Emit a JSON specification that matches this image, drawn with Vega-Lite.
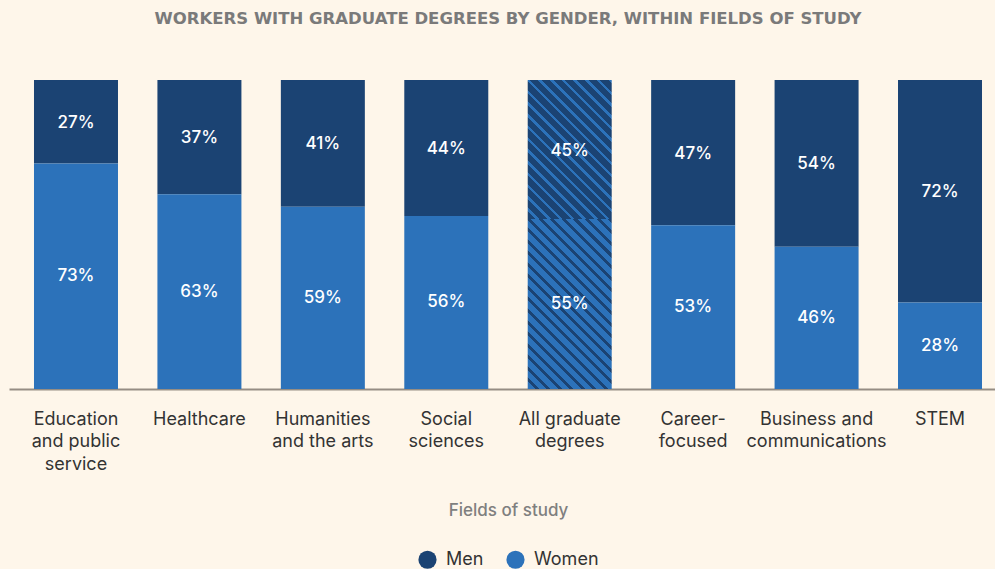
{
  "$schema": "https://vega.github.io/schema/vega-lite/v6.json",
  "autosize": {"type": "none"},
  "padding": {"left": 9, "top": 80, "right": 0, "bottom": 180},
  "width": 998,
  "height": 309,
  "background": "#fef6ea",
  "title": {
    "text": "WORKERS WITH GRADUATE DEGREES BY GENDER, WITHIN FIELDS OF STUDY",
    "font": "DejaVu Sans",
    "fontSize": 16.5,
    "fontWeight": "bold",
    "color": "#7a7a7a",
    "anchor": "middle",
    "offset": 53
  },
  "data": {
    "values": [
      {"category": "Education and public service", "gender": "Men", "share": 0.27},
      {"category": "Education and public service", "gender": "Women", "share": 0.73},
      {"category": "Healthcare", "gender": "Men", "share": 0.37},
      {"category": "Healthcare", "gender": "Women", "share": 0.63},
      {"category": "Humanities and the arts", "gender": "Men", "share": 0.41},
      {"category": "Humanities and the arts", "gender": "Women", "share": 0.59},
      {"category": "Social sciences", "gender": "Men", "share": 0.44},
      {"category": "Social sciences", "gender": "Women", "share": 0.56},
      {"category": "All graduate degrees", "gender": "Men", "share": 0.45},
      {"category": "All graduate degrees", "gender": "Women", "share": 0.55},
      {"category": "Career-focused", "gender": "Men", "share": 0.47},
      {"category": "Career-focused", "gender": "Women", "share": 0.53},
      {"category": "Business and communications", "gender": "Men", "share": 0.54},
      {"category": "Business and communications", "gender": "Women", "share": 0.46},
      {"category": "STEM", "gender": "Men", "share": 0.72},
      {"category": "STEM", "gender": "Women", "share": 0.28}
    ]
  },
  "encoding": {
    "x": {
      "field": "category",
      "type": "nominal",
      "sort": ["Education and public service", "Healthcare", "Humanities and the arts", "Social sciences", "All graduate degrees", "Career-focused", "Business and communications", "STEM"],
      "scale": {"paddingInner": 0.3195, "paddingOuter": 0.2025},
      "axis": {
        "title": "Fields of study",
        "labelAngle": 0,
        "ticks": false,
        "domainColor": "#958d84",
        "domainWidth": 2,
        "labelFont": "Inter",
        "labelFontSize": 18,
        "labelColor": "#333333",
        "labelLineHeight": 22.5,
        "labelPadding": 21,
        "labelLimit": 0,
        "labelBaseline": "top",
        "labelExpr": "datum.value=='Education and public service' ? ['Education','and public','service'] : datum.value=='Humanities and the arts' ? ['Humanities','and the arts'] : datum.value=='Social sciences' ? ['Social','sciences'] : datum.value=='All graduate degrees' ? ['All graduate','degrees'] : datum.value=='Career-focused' ? ['Career-','focused'] : datum.value=='Business and communications' ? ['Business and','communications'] : datum.label",
        "titleFont": "Inter",
        "titleFontSize": 17,
        "titleFontWeight": 500,
        "titleColor": "#7f7f7f",
        "titlePadding": 29
      }
    }
  },
  "layer": [
    {
      "mark": {"type": "bar"},
      "encoding": {
        "y": {"field": "share", "type": "quantitative", "stack": "zero", "scale": {"domain": [0, 1]}, "axis": null},
        "order": {"field": "gender", "sort": "descending"},
        "color": {
          "condition": [
            {
              "test": "datum.category==='All graduate degrees' && datum.gender==='Men'",
              "value": {
                "gradient": "linear", "x1": 0, "y1": 1, "x2": 0.7102, "y2": -0.1752,
                "stops": [
                  {"offset": 0, "color": "#1b4373"}, {"offset": 0.03684, "color": "#1b4373"}, {"offset": 0.03684, "color": "#2c72ba"}, {"offset": 0.05263, "color": "#2c72ba"},
                  {"offset": 0.05263, "color": "#1b4373"}, {"offset": 0.08947, "color": "#1b4373"}, {"offset": 0.08947, "color": "#2c72ba"}, {"offset": 0.10526, "color": "#2c72ba"},
                  {"offset": 0.10526, "color": "#1b4373"}, {"offset": 0.14211, "color": "#1b4373"}, {"offset": 0.14211, "color": "#2c72ba"}, {"offset": 0.15789, "color": "#2c72ba"},
                  {"offset": 0.15789, "color": "#1b4373"}, {"offset": 0.19474, "color": "#1b4373"}, {"offset": 0.19474, "color": "#2c72ba"}, {"offset": 0.21053, "color": "#2c72ba"},
                  {"offset": 0.21053, "color": "#1b4373"}, {"offset": 0.24737, "color": "#1b4373"}, {"offset": 0.24737, "color": "#2c72ba"}, {"offset": 0.26316, "color": "#2c72ba"},
                  {"offset": 0.26316, "color": "#1b4373"}, {"offset": 0.3, "color": "#1b4373"}, {"offset": 0.3, "color": "#2c72ba"}, {"offset": 0.31579, "color": "#2c72ba"},
                  {"offset": 0.31579, "color": "#1b4373"}, {"offset": 0.35263, "color": "#1b4373"}, {"offset": 0.35263, "color": "#2c72ba"}, {"offset": 0.36842, "color": "#2c72ba"},
                  {"offset": 0.36842, "color": "#1b4373"}, {"offset": 0.40526, "color": "#1b4373"}, {"offset": 0.40526, "color": "#2c72ba"}, {"offset": 0.42105, "color": "#2c72ba"},
                  {"offset": 0.42105, "color": "#1b4373"}, {"offset": 0.45789, "color": "#1b4373"}, {"offset": 0.45789, "color": "#2c72ba"}, {"offset": 0.47368, "color": "#2c72ba"},
                  {"offset": 0.47368, "color": "#1b4373"}, {"offset": 0.51053, "color": "#1b4373"}, {"offset": 0.51053, "color": "#2c72ba"}, {"offset": 0.52632, "color": "#2c72ba"},
                  {"offset": 0.52632, "color": "#1b4373"}, {"offset": 0.56316, "color": "#1b4373"}, {"offset": 0.56316, "color": "#2c72ba"}, {"offset": 0.57895, "color": "#2c72ba"},
                  {"offset": 0.57895, "color": "#1b4373"}, {"offset": 0.61579, "color": "#1b4373"}, {"offset": 0.61579, "color": "#2c72ba"}, {"offset": 0.63158, "color": "#2c72ba"},
                  {"offset": 0.63158, "color": "#1b4373"}, {"offset": 0.66842, "color": "#1b4373"}, {"offset": 0.66842, "color": "#2c72ba"}, {"offset": 0.68421, "color": "#2c72ba"},
                  {"offset": 0.68421, "color": "#1b4373"}, {"offset": 0.72105, "color": "#1b4373"}, {"offset": 0.72105, "color": "#2c72ba"}, {"offset": 0.73684, "color": "#2c72ba"},
                  {"offset": 0.73684, "color": "#1b4373"}, {"offset": 0.77368, "color": "#1b4373"}, {"offset": 0.77368, "color": "#2c72ba"}, {"offset": 0.78947, "color": "#2c72ba"},
                  {"offset": 0.78947, "color": "#1b4373"}, {"offset": 0.82632, "color": "#1b4373"}, {"offset": 0.82632, "color": "#2c72ba"}, {"offset": 0.84211, "color": "#2c72ba"},
                  {"offset": 0.84211, "color": "#1b4373"}, {"offset": 0.87895, "color": "#1b4373"}, {"offset": 0.87895, "color": "#2c72ba"}, {"offset": 0.89474, "color": "#2c72ba"},
                  {"offset": 0.89474, "color": "#1b4373"}, {"offset": 0.93158, "color": "#1b4373"}, {"offset": 0.93158, "color": "#2c72ba"}, {"offset": 0.94737, "color": "#2c72ba"},
                  {"offset": 0.94737, "color": "#1b4373"}, {"offset": 0.98421, "color": "#1b4373"}, {"offset": 0.98421, "color": "#2c72ba"}, {"offset": 1, "color": "#2c72ba"}
                ]
              }
            },
            {
              "test": "datum.category==='All graduate degrees' && datum.gender==='Women'",
              "value": {
                "gradient": "linear", "x1": 0, "y1": 1, "x2": 0.5934, "y2": -0.2009,
                "stops": [
                  {"offset": 0, "color": "#2c72ba"}, {"offset": 0.02955, "color": "#2c72ba"}, {"offset": 0.02955, "color": "#1b4373"}, {"offset": 0.04545, "color": "#1b4373"},
                  {"offset": 0.04545, "color": "#2c72ba"}, {"offset": 0.075, "color": "#2c72ba"}, {"offset": 0.075, "color": "#1b4373"}, {"offset": 0.09091, "color": "#1b4373"},
                  {"offset": 0.09091, "color": "#2c72ba"}, {"offset": 0.12045, "color": "#2c72ba"}, {"offset": 0.12045, "color": "#1b4373"}, {"offset": 0.13636, "color": "#1b4373"},
                  {"offset": 0.13636, "color": "#2c72ba"}, {"offset": 0.16591, "color": "#2c72ba"}, {"offset": 0.16591, "color": "#1b4373"}, {"offset": 0.18182, "color": "#1b4373"},
                  {"offset": 0.18182, "color": "#2c72ba"}, {"offset": 0.21136, "color": "#2c72ba"}, {"offset": 0.21136, "color": "#1b4373"}, {"offset": 0.22727, "color": "#1b4373"},
                  {"offset": 0.22727, "color": "#2c72ba"}, {"offset": 0.25682, "color": "#2c72ba"}, {"offset": 0.25682, "color": "#1b4373"}, {"offset": 0.27273, "color": "#1b4373"},
                  {"offset": 0.27273, "color": "#2c72ba"}, {"offset": 0.30227, "color": "#2c72ba"}, {"offset": 0.30227, "color": "#1b4373"}, {"offset": 0.31818, "color": "#1b4373"},
                  {"offset": 0.31818, "color": "#2c72ba"}, {"offset": 0.34773, "color": "#2c72ba"}, {"offset": 0.34773, "color": "#1b4373"}, {"offset": 0.36364, "color": "#1b4373"},
                  {"offset": 0.36364, "color": "#2c72ba"}, {"offset": 0.39318, "color": "#2c72ba"}, {"offset": 0.39318, "color": "#1b4373"}, {"offset": 0.40909, "color": "#1b4373"},
                  {"offset": 0.40909, "color": "#2c72ba"}, {"offset": 0.43864, "color": "#2c72ba"}, {"offset": 0.43864, "color": "#1b4373"}, {"offset": 0.45455, "color": "#1b4373"},
                  {"offset": 0.45455, "color": "#2c72ba"}, {"offset": 0.48409, "color": "#2c72ba"}, {"offset": 0.48409, "color": "#1b4373"}, {"offset": 0.5, "color": "#1b4373"},
                  {"offset": 0.5, "color": "#2c72ba"}, {"offset": 0.52955, "color": "#2c72ba"}, {"offset": 0.52955, "color": "#1b4373"}, {"offset": 0.54545, "color": "#1b4373"},
                  {"offset": 0.54545, "color": "#2c72ba"}, {"offset": 0.575, "color": "#2c72ba"}, {"offset": 0.575, "color": "#1b4373"}, {"offset": 0.59091, "color": "#1b4373"},
                  {"offset": 0.59091, "color": "#2c72ba"}, {"offset": 0.62045, "color": "#2c72ba"}, {"offset": 0.62045, "color": "#1b4373"}, {"offset": 0.63636, "color": "#1b4373"},
                  {"offset": 0.63636, "color": "#2c72ba"}, {"offset": 0.66591, "color": "#2c72ba"}, {"offset": 0.66591, "color": "#1b4373"}, {"offset": 0.68182, "color": "#1b4373"},
                  {"offset": 0.68182, "color": "#2c72ba"}, {"offset": 0.71136, "color": "#2c72ba"}, {"offset": 0.71136, "color": "#1b4373"}, {"offset": 0.72727, "color": "#1b4373"},
                  {"offset": 0.72727, "color": "#2c72ba"}, {"offset": 0.75682, "color": "#2c72ba"}, {"offset": 0.75682, "color": "#1b4373"}, {"offset": 0.77273, "color": "#1b4373"},
                  {"offset": 0.77273, "color": "#2c72ba"}, {"offset": 0.80227, "color": "#2c72ba"}, {"offset": 0.80227, "color": "#1b4373"}, {"offset": 0.81818, "color": "#1b4373"},
                  {"offset": 0.81818, "color": "#2c72ba"}, {"offset": 0.84773, "color": "#2c72ba"}, {"offset": 0.84773, "color": "#1b4373"}, {"offset": 0.86364, "color": "#1b4373"},
                  {"offset": 0.86364, "color": "#2c72ba"}, {"offset": 0.89318, "color": "#2c72ba"}, {"offset": 0.89318, "color": "#1b4373"}, {"offset": 0.90909, "color": "#1b4373"},
                  {"offset": 0.90909, "color": "#2c72ba"}, {"offset": 0.93864, "color": "#2c72ba"}, {"offset": 0.93864, "color": "#1b4373"}, {"offset": 0.95455, "color": "#1b4373"},
                  {"offset": 0.95455, "color": "#2c72ba"}, {"offset": 0.98409, "color": "#2c72ba"}, {"offset": 0.98409, "color": "#1b4373"}, {"offset": 1, "color": "#1b4373"}
                ]
              }
            }
          ],
          "field": "gender",
          "type": "nominal",
          "scale": {"domain": ["Men", "Women"], "range": ["#1b4373", "#2c72ba"]},
          "legend": {
            "title": null,
            "orient": "none",
            "legendX": 409,
            "legendY": 470,
            "direction": "horizontal",
            "symbolType": "circle",
            "symbolSize": 330,
            "symbolStrokeWidth": 0,
            "labelFont": "Inter",
            "labelFontSize": 18,
            "labelColor": "#333333",
            "labelOffset": 9,
            "columnPadding": 22
          }
        }
      }
    },
    {
      "transform": [{"filter": "datum.gender==='Women'"}],
      "mark": {"type": "text", "color": "#ffffff", "font": "Inter", "fontSize": 17, "fontWeight": 500, "baseline": "middle"},
      "encoding": {
        "y": {"field": "share", "type": "quantitative", "scale": {"domain": [0, 2]}, "axis": null},
        "text": {"field": "share", "type": "quantitative", "format": ".0%"}
      }
    },
    {
      "transform": [{"filter": "datum.gender==='Men'"}],
      "mark": {"type": "text", "color": "#ffffff", "font": "Inter", "fontSize": 17, "fontWeight": 500, "baseline": "middle", "dy": 1},
      "encoding": {
        "y": {"field": "share", "type": "quantitative", "scale": {"domain": [0, 2], "reverse": true}, "axis": null},
        "text": {"field": "share", "type": "quantitative", "format": ".0%"}
      }
    }
  ],
  "resolve": {"scale": {"y": "independent"}},
  "config": {"view": {"stroke": null}}
}
